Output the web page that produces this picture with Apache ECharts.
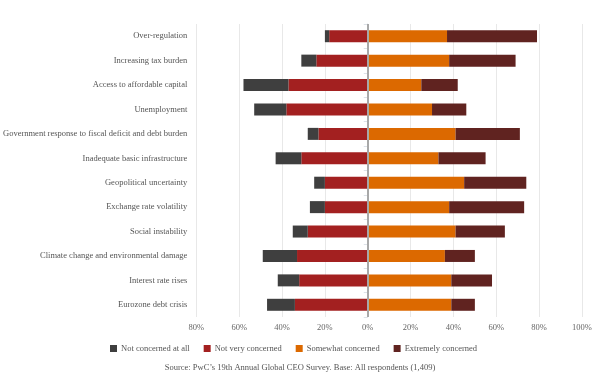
<!DOCTYPE html>
<html>
<head>
<meta charset="utf-8">
<script src="https://cdn.jsdelivr.net/npm/echarts@6/dist/echarts.min.js"></script>
<style>
  html, body { margin: 0; padding: 0; background: #fff; }
  #chart { width: 600px; height: 376px; }
</style>
</head>
<body>
<div id="chart"></div>
<script>
// concerns, top to bottom
var categories = [
  'Over-regulation',
  'Increasing tax burden',
  'Access to affordable capital',
  'Unemployment',
  'Government response to fiscal deficit and debt burden',
  'Inadequate basic infrastructure',
  'Geopolitical uncertainty',
  'Exchange rate volatility',
  'Social instability',
  'Climate change and environmental damage',
  'Interest rate rises',
  'Eurozone debt crisis'
];
// left side values (percent, drawn as negatives)
var notAtAll = [2, 7, 21, 15, 5, 12, 5, 7, 7, 16, 10, 13];
var notVery = [18, 24, 37, 38, 23, 31, 20, 20, 28, 33, 32, 34];
// right side values
var somewhat = [37, 38, 25, 30, 41, 33, 45, 38, 41, 36, 39, 39];
var extremely = [42, 31, 17, 16, 30, 22, 29, 35, 23, 14, 19, 11];
var xTicks = [-80, -60, -40, -20, 0, 20, 40, 60, 80, 100];

var serif = '"Liberation Serif", "DejaVu Serif", serif';

function neg(arr) {
  return arr.map(function (v) { return -v; });
}

var chart = echarts.init(document.getElementById('chart'));

var option = {
  animation: false,
  backgroundColor: '#fff',
  textStyle: { fontFamily: serif },
  title: {
    text: "Source: PwC\u2019s 19th Annual Global CEO Survey. Base: All respondents (1,409)",
    left: 'center',
    top: 363,
    padding: 0,
    textStyle: { fontFamily: serif, fontSize: 8.5, fontWeight: 'normal', color: '#555' }
  },
  legend: {
    top: 339,
    left: 105,
    itemWidth: 7,
    itemHeight: 7,
    itemGap: 14,
    icon: 'rect',
    data: ['Not concerned at all', 'Not very concerned', 'Somewhat concerned', 'Extremely concerned'],
    textStyle: { fontFamily: serif, fontSize: 8.5, color: '#555', padding: [0, 0, 0, -1] }
  },
  grid: { left: 192.5, right: 18, top: 24, bottom: 59 },
  xAxis: {
    type: 'value',
    min: xTicks[0],
    max: xTicks[xTicks.length - 1],
    interval: 20,
    axisLine: { show: false },
    axisTick: { show: false },
    splitLine: { show: true, lineStyle: { color: '#e8e8e8', width: 1 } },
    axisLabel: {
      fontFamily: serif, fontSize: 8.5, color: '#666', margin: 6,
      formatter: function (v) { return Math.abs(v) + '%'; }
    }
  },
  yAxis: {
    type: 'category',
    inverse: true,
    data: categories,
    axisLine: { show: true, lineStyle: { color: '#dde2e8', width: 1 } },
    axisTick: { show: true, length: 4, interval: 0, lineStyle: { color: '#dde2e8' } },
    axisLabel: { fontFamily: serif, fontSize: 8.5, color: '#555', margin: 9, interval: 0 }
  },
  series: [
    {
      name: 'Not very concerned', type: 'bar', stack: 'all', barWidth: 12,
      itemStyle: { color: '#a32020' },
      data: neg(notVery),
      markLine: {
        silent: true, symbol: 'none', label: { show: false },
        lineStyle: { color: '#a8a8a8', width: 2, type: 'solid' },
        data: [{ xAxis: 0 }]
      }
    },
    {
      name: 'Not concerned at all', type: 'bar', stack: 'all', barWidth: 12,
      itemStyle: { color: '#3f3f3f' },
      data: neg(notAtAll)
    },
    {
      name: 'Somewhat concerned', type: 'bar', stack: 'all', barWidth: 12,
      itemStyle: { color: '#dc6900' },
      data: somewhat
    },
    {
      name: 'Extremely concerned', type: 'bar', stack: 'all', barWidth: 12,
      itemStyle: { color: '#602320' },
      data: extremely
    }
  ]
};

chart.setOption(option);
</script>
</body>
</html>
